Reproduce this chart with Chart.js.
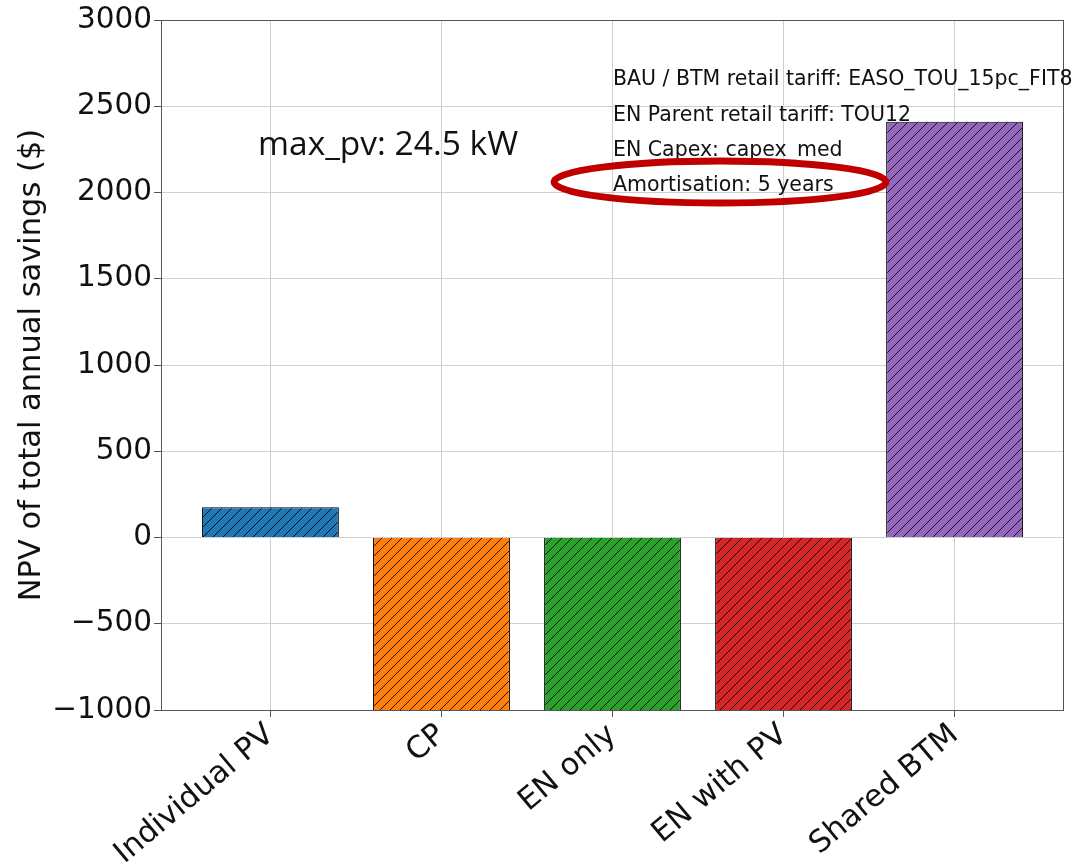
<!DOCTYPE html>
<html>
<head>
<meta charset="utf-8">
<script src="https://cdn.jsdelivr.net/npm/chart.js@4"></script>
<style>
  html, body { margin: 0; padding: 0; background: #fff; }
  #wrap { width: 1087px; height: 866px; }
</style>
</head>
<body>
<div id="wrap"><canvas id="npvChart" width="1087" height="866"></canvas></div>
<script>
// data
const categories = ["Individual PV", "CP", "EN only", "EN with PV", "Shared BTM"];
const savings = [175, -1550, -1600, -1650, 2410];
const barColors = ["#1f77b4", "#ff7f0e", "#2ca02c", "#d62728", "#9467bd"];
const yTicks = [-1000, -500, 0, 500, 1000, 1500, 2000, 2500, 3000];
const infoLines = [
  "BAU / BTM retail tariff: EASO_TOU_15pc_FIT8",
  "EN Parent retail tariff: TOU12",
  "EN Capex: capex_med",
  "Amortisation: 5 years"
];
const maxPvText = "max_pv: 24.5 kW";

// hatch pattern "///" on a fill colour
function hatch(color) {
  const c = document.createElement('canvas');
  c.width = 10; c.height = 10;
  const g = c.getContext('2d');
  g.fillStyle = color;
  g.fillRect(0, 0, 10, 10);
  g.strokeStyle = 'rgba(0,0,0,0.85)';
  g.lineWidth = 1;
  g.beginPath();
  g.moveTo(-5, 5); g.lineTo(5, -5);
  g.moveTo(0, 10); g.lineTo(10, 0);
  g.moveTo(5, 15); g.lineTo(15, 5);
  g.stroke();
  return g.createPattern(c, 'repeat');
}

// text, ellipse and frame on top
const overlay = {
  id: 'overlay',
  afterDraw(chart) {
    const ctx = chart.ctx;
    const a = chart.chartArea;
    ctx.save();
    ctx.strokeStyle = '#555';
    ctx.lineWidth = 1;
    ctx.strokeRect(a.left + 0.5, a.top + 0.5, a.right - a.left - 1, a.bottom - a.top);

    ctx.fillStyle = '#111';
    ctx.textBaseline = 'middle';
    ctx.font = '33.5px "Open Sans"';
    ctx.fillText(maxPvText, 258, 145);

    ctx.font = '20.5px "DejaVu Sans"';
    infoLines.forEach(function (t, i) {
      ctx.fillText(t, 613, 80 + i * 35.3);
    });

    ctx.strokeStyle = '#c00000';
    ctx.lineWidth = 7;
    ctx.beginPath();
    ctx.ellipse(720, 182, 166, 21, 0, 0, Math.PI * 2);
    ctx.stroke();
    ctx.restore();
  }
};

new Chart("npvChart", {
  type: "bar",
  data: {
    datasets: [{
      data: savings.map(function (v, i) { return { x: i, y: v }; }),
      backgroundColor: barColors.map(hatch),
      borderColor: "#000",
      borderWidth: 1,
      categoryPercentage: 1,
      barPercentage: 0.8
    }]
  },
  plugins: [overlay],
  options: {
    responsive: false,
    animation: false,
    layout: { padding: { top: 20, right: 23, left: 0, bottom: 0 } },
    plugins: {
      legend: { display: false },
      tooltip: { enabled: false }
    },
    scales: {
      x: {
        type: "linear",
        min: -0.64,
        max: 4.64,
        offset: false,
        afterBuildTicks: function (axis) {
          axis.ticks = categories.map(function (c, i) { return { value: i }; });
        },
        afterFit: function (axis) { axis.height = 156; },
        grid: { offset: false, color: "#cfcfcf", tickLength: 7, tickColor: "#555" },
        border: { display: false },
        ticks: {
          minRotation: 40,
          maxRotation: 40,
          padding: 0,
          color: "#111",
          font: { family: "DejaVu Sans", size: 30.5 },
          callback: function (v) { return categories[v]; }
        }
      },
      y: {
        min: -1000,
        max: 3000,
        afterBuildTicks: function (axis) {
          axis.ticks = yTicks.map(function (v) { return { value: v }; });
        },
        afterFit: function (axis) { axis.width = 161; },
        grid: { color: "#cfcfcf", tickLength: 7, tickColor: "#555" },
        border: { display: false },
        title: {
          display: true,
          text: "NPV of total annual savings ($)",
          color: "#111",
          font: { family: "DejaVu Sans", size: 30.5 },
          padding: { top: 14, bottom: 0 }
        },
        ticks: {
          padding: 2,
          color: "#111",
          font: { family: "DejaVu Sans", size: 29.5 },
          callback: function (v) { return String(v).replace('-', '\u2212'); }
        }
      }
    }
  }
});
</script>
</body>
</html>
